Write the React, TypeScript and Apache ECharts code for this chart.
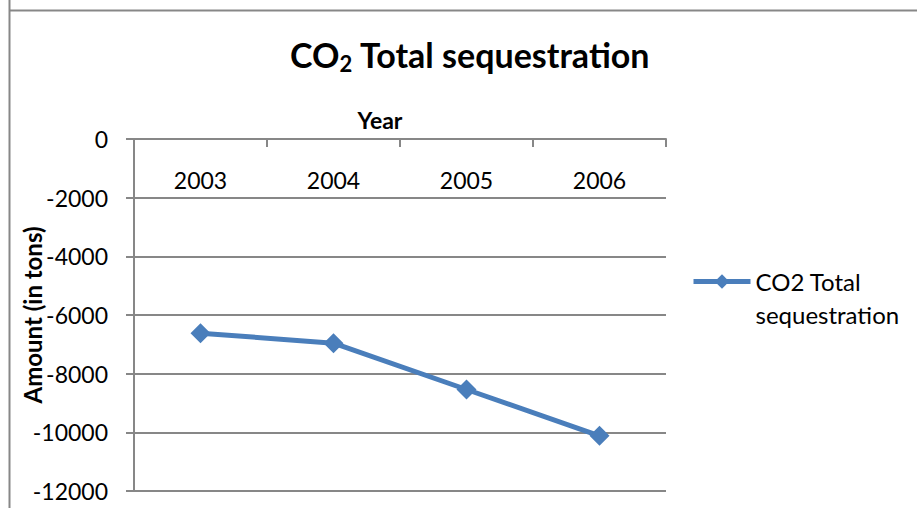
import React, { useEffect, useRef } from 'react';
import * as echarts from 'echarts';

const years: string[] = ['2003', '2004', '2005', '2006'];
const sequestration: number[] = [-6620, -6960, -8540, -10120];
const yMin = -12000;
const yMax = 0;
const yInterval = 2000;
const seriesName = 'CO2 Total sequestration';
const legendLines: string[] = ['CO2 Total', 'sequestration'];
const titleMain = 'CO';
const titleSub = '2';
const titleRest = ' Total sequestration';
const xAxisName = 'Year';
const yAxisName = 'Amount (in tons)';

const FONT = 'Lato';
const GRAY = '#878787';
const BLUE = '#4a7ebb';

export default function App() {
  const ref = useRef<HTMLDivElement>(null);
  useEffect(() => {
    document.body.style.margin = '0';
    if (!ref.current) return;
    const chart = echarts.init(ref.current, undefined, { renderer: 'svg' });
    chart.setOption({
      animation: false,
      backgroundColor: '#ffffff',
      textStyle: { fontFamily: FONT },
      title: {
        text: `{a|${titleMain}}{b|${titleSub}}{a|${titleRest}}`,
        left: 470,
        top: 34,
        textAlign: 'center',
        padding: 0,
        textStyle: {
          rich: {
            a: { fontFamily: FONT, fontWeight: 'bold', fontSize: 34, lineHeight: 40, color: '#000' },
            b: { fontFamily: FONT, fontWeight: 'bold', fontSize: 22, lineHeight: 21, verticalAlign: 'bottom', color: '#000' },
          },
        },
      },
      graphic: [
        { type: 'line', shape: { x1: 9.5, y1: 0, x2: 9.5, y2: 508 }, style: { stroke: GRAY, lineWidth: 2 } },
        { type: 'line', shape: { x1: 9, y1: 10.5, x2: 917, y2: 10.5 }, style: { stroke: GRAY, lineWidth: 2 } },
      ],
      legend: {
        left: 691,
        top: 232,
        padding: 0,
        orient: 'vertical',
        itemWidth: 57,
        itemHeight: 18,
        itemGap: 0,
        lineStyle: { width: 5 },
        formatter: () => '\n' + legendLines.join('\n'),
        textStyle: {
          fontFamily: FONT,
          fontSize: 24,
          lineHeight: 33,
          color: '#000',
        },
        data: [seriesName],
      },
      grid: { left: 134, right: 251, top: 139, bottom: 17, outerBoundsMode: 'none' },
      xAxis: {
        type: 'category',
        position: 'top',
        data: years,
        boundaryGap: true,
        name: xAxisName,
        nameLocation: 'middle',
        nameGap: 8,
        nameMoveOverlap: false,
        nameTextStyle: { fontFamily: FONT, fontWeight: 'bold', fontSize: 23, color: '#000', padding: [0, 40, 0, 0] },
        axisLine: { show: true, lineStyle: { color: GRAY, width: 2 } },
        axisTick: { show: true, inside: true, length: 8, alignWithLabel: false, lineStyle: { color: GRAY, width: 2 } },
        axisLabel: { inside: true, margin: 29, fontFamily: FONT, fontSize: 23, color: '#000' },
        splitLine: { show: false },
      },
      yAxis: {
        type: 'value',
        min: yMin,
        max: yMax,
        interval: yInterval,
        name: yAxisName,
        nameLocation: 'middle',
        nameGap: 90,
        nameMoveOverlap: false,
        nameRotate: 90,
        nameTextStyle: { fontFamily: FONT, fontWeight: 'bold', fontSize: 24, color: '#000' },
        axisLine: { show: true, lineStyle: { color: GRAY, width: 2 } },
        axisTick: { show: true, inside: false, length: 8, lineStyle: { color: GRAY, width: 2 } },
        axisLabel: { margin: 26, fontFamily: FONT, fontSize: 23, color: '#000', formatter: (v: number) => String(v) },
        splitLine: { show: true, lineStyle: { color: GRAY, width: 2 } },
      },
      series: [
        {
          name: seriesName,
          type: 'line',
          data: sequestration,
          symbol: 'diamond',
          symbolSize: 20,
          lineStyle: { color: BLUE, width: 5 },
          itemStyle: { color: BLUE },
        },
      ],
    });
    return () => chart.dispose();
  }, []);
  return <div ref={ref} style={{ width: 917, height: 508 }} />;
}
